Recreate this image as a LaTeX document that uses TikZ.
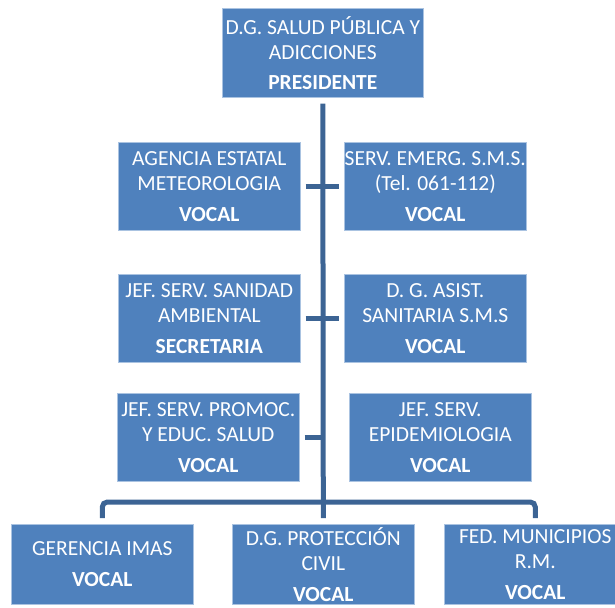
\documentclass[tikz,border=0pt]{standalone}
\usepackage{fontspec}
\setmainfont{Carlito}
\definecolor{boxblue}{RGB}{79,129,189}
\definecolor{boxedge}{RGB}{170,195,225}
\definecolor{linkblue}{RGB}{60,100,148}
\tikzset{
  orgbox/.style={fill=boxblue, draw=boxedge, line width=0.6pt, text=white,
    minimum width=182pt, minimum height=88pt, inner sep=0pt, align=center,
    anchor=north west, font=\fontsize{21.5}{25}\selectfont},
  link/.style={draw=linkblue, line width=5pt}
}
\begin{document}
\begin{tikzpicture}[x=1pt, y=-1pt]
% Canvas with the reference margins
\useasboundingbox (0,0) rectangle (615,607);
\clip (0,0) rectangle (615,607);

% President
\node[orgbox, minimum width=201pt, minimum height=89pt] (pres) at (222,8)
  {D.G. SALUD P\'UBLICA Y\\ADICCIONES\\[5pt]\textbf{PRESIDENTE}};

% Members, left and right of the trunk
\node[orgbox] (meteo) at (118,142) {AGENCIA ESTATAL\\METEOROLOGIA\\[6pt]\textbf{VOCAL}};
\node[orgbox] (emerg) at (344,142) {SERV. EMERG. S.M.S.\\(Tel. 061-112)\\[6pt]\textbf{VOCAL}};
\node[orgbox] (sanid) at (118,274) {JEF. SERV. SANIDAD\\AMBIENTAL\\[6pt]\textbf{SECRETARIA}};
\node[orgbox] (asist) at (344,274) {D. G. ASIST.\\SANITARIA S.M.S\\[6pt]\textbf{VOCAL}};
\node[orgbox] (promo) at (117,393) {JEF. SERV. PROMOC.\\Y EDUC. SALUD\\[6pt]\textbf{VOCAL}};
\node[orgbox] (epid) at (349,393) {JEF. SERV.\\EPIDEMIOLOGIA\\[6pt]\textbf{VOCAL}};

% Bottom row
\node[orgbox, minimum height=80pt] (imas) at (11,524) {GERENCIA IMAS\\[6pt]\textbf{VOCAL}};
\node[orgbox, minimum height=80pt] (civil) at (232,524) {D.G. PROTECCI\'ON\\CIVIL\\[6pt]\textbf{VOCAL}};
\node[orgbox, minimum height=80pt] (munic) at (444,524) {FED. MUNICIPIOS\\R.M.\\[6pt]\textbf{VOCAL}};

% Connectors
\coordinate (bar) at (322,502);
\draw[link, shorten <=6pt, shorten >=6pt] (pres.south) -- (civil.north);
\draw[link, shorten <=5pt, shorten >=5pt] (meteo.east) -- (emerg.west);
\draw[link, shorten <=5pt, shorten >=5pt] (sanid.east) -- (asist.west);
\draw[link, shorten <=5pt] (promo.east) -- (promo.east -| pres.south);
\draw[link, rounded corners=5pt, shorten <=6pt, shorten >=6pt]
  (imas.north) |- (bar) -| (munic.north);
\end{tikzpicture}
\end{document}
